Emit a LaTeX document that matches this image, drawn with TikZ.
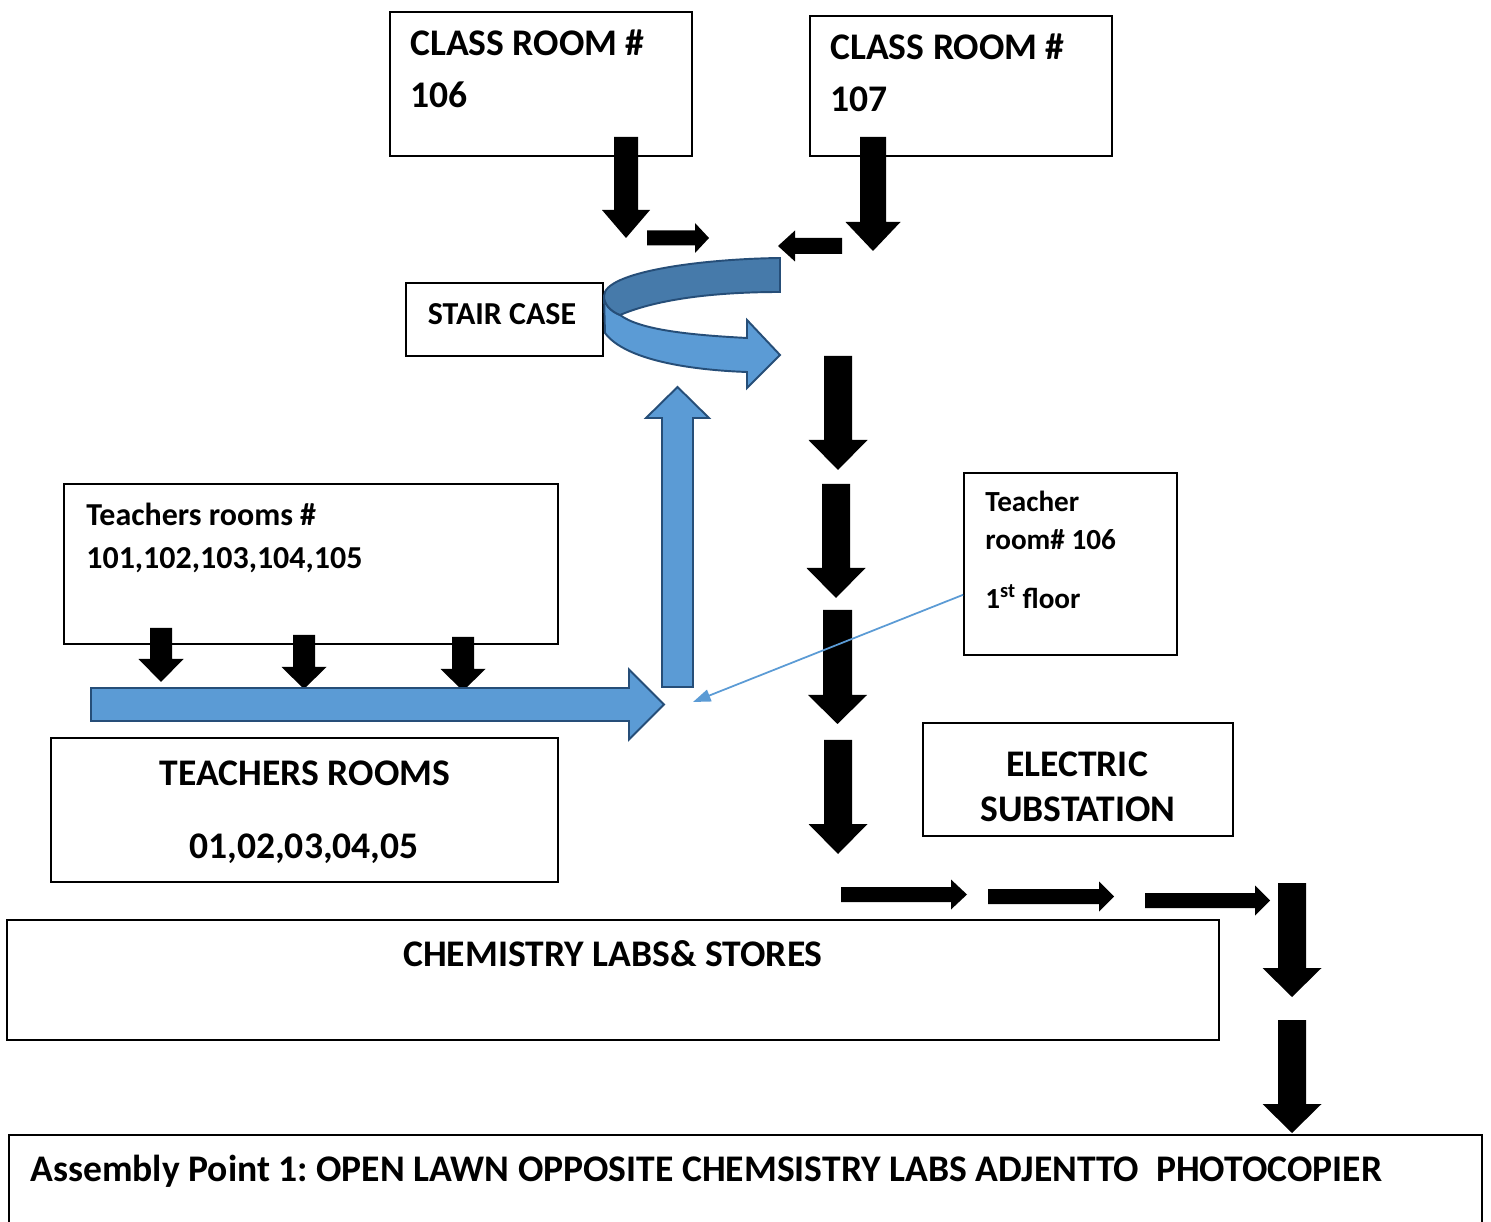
\documentclass[tikz,border=0pt]{standalone}
\usepackage{fontspec}
\setmainfont{Carlito}
\frenchspacing
\usetikzlibrary{arrows.meta,fit}
\definecolor{lblue}{HTML}{5B9BD5}
\definecolor{dblue}{HTML}{467AAA}
\definecolor{eblue}{HTML}{264E78}
\newcommand{\fbig}{\fontsize{21.4}{25}\selectfont\bfseries}
\newcommand{\fmid}{\fontsize{18.2}{22}\selectfont\bfseries}
\newcommand{\fsml}{\fontsize{16.6}{20}\selectfont\bfseries}
% block arrows: style, x, y start, y head base, y tip, shaft half, head half
\newcommand{\blkv}[7]{\path[#1] ({#2-#6},#3) -- ({#2+#6},#3) -- ({#2+#6},#4) -- ({#2+#7},#4)
  -- (#2,#5) -- ({#2-#7},#4) -- ({#2-#6},#4) -- cycle;}
\newcommand{\blkh}[7]{\path[#1] (#3,{#2-#6}) -- (#4,{#2-#6}) -- (#4,{#2-#7}) -- (#5,#2)
  -- (#4,{#2+#7}) -- (#4,{#2+#6}) -- (#3,{#2+#6}) -- cycle;}
\begin{document}
\begin{tikzpicture}[x=0.02cm,y=-0.02cm,
    box/.style={draw,line width=1pt,inner sep=0pt},
    txt/.style={inner sep=0pt,anchor=base west},
    ctr/.style={inner sep=0pt,anchor=base},
    blk/.style={fill=black},
    blu/.style={fill=lblue,draw=eblue,line width=1.1pt,line join=miter}]
    \useasboundingbox[fill=white] (0,0) rectangle (1491,1222);
    % boxes
    \node[box,fit={(390,12) (692,156)}] (CR106) {};
    \node[box,fit={(810,16) (1112,156)}] (CR107) {};
    \node[box,fit={(406,283) (603,356)}] (SC) {};
    \node[box,fit={(64,484) (558,644)}] (TR) {};
    \node[box,fit={(964,473) (1177,655)}] (TR106) {};
    \node[box,fit={(51,738) (558,882)}] (TRB) {};
    \node[box,fit={(923,723) (1233,836)}] (ES) {};
    \node[box,fit={(7,920) (1219,1040)}] (CL) {};
    \node[box,fit={(9,1135) (1482,1260)}] (AP) {};
    % texts
    \node[txt,font=\fbig] (CR106a) at (410,56) {CLASS ROOM \#};
    \node[txt,font=\fbig] (CR106b) at (410,108) {106};
    \node[txt,font=\fbig] (CR107a) at (830,60) {CLASS ROOM \#};
    \node[txt,font=\fbig] (CR107b) at (830,112) {107};
    \node[ctr,font=\fmid] (SCa) at (502,325) {STAIR CASE};
    \node[txt,font=\fmid] (TRa) at (86,526) {Teachers rooms \#};
    \node[txt,font=\fmid] (TRb) at (86,569) {101,102,103,104,105};
    \node[txt,font=\fsml] (TR106a) at (985,512) {Teacher};
    \node[txt,font=\fsml] (TR106b) at (985,550) {room\# 106};
    \node[txt,font=\fsml] (TR106c) at (985,609) {1\textsuperscript{st} floor};
    \node[ctr,font=\fbig] (TRBa) at (305,786) {TEACHERS ROOMS};
    \node[ctr,font=\fbig] (TRBb) at (304,858) {01,02,03,04,05};
    \node[ctr,font=\fbig] (ESa) at (1077,776) {ELECTRIC};
    \node[ctr,font=\fbig] (ESb) at (1078,821) {SUBSTATION};
    \node[ctr,font=\fbig] (CLa) at (613,966) {CHEMISTRY LABS\& STORES};
    \node[txt,font=\fbig] (APa) at (30,1181) {Assembly Point 1: OPEN LAWN OPPOSITE CHEMSISTRY LABS ADJENTTO\ \ PHOTOCOPIER};
    % black arrows
    \blkv{blk}{626}{137}{210}{238}{12}{24}
    \blkh{blk}{238}{647}{695}{709}{7.5}{15}
    \blkh{blk}{246}{842}{795}{778}{8}{15.5}
    \blkv{blk}{873}{137}{222}{251}{13}{27.5}
    \blkv{blk}{838}{356}{440}{470}{14}{29.5}
    \blkv{blk}{836}{484}{568}{598}{14}{29.5}
    \blkv{blk}{837.5}{610}{695}{724}{14.5}{29.5}
    \blkv{blk}{838}{740}{824}{854}{14}{29.5}
    \blkh{blk}{894.5}{841}{951}{967}{7.5}{15}
    \blkh{blk}{896.5}{988}{1099}{1114}{7.5}{15}
    \blkh{blk}{900.5}{1145}{1255}{1270}{7.5}{15}
    \blkv{blk}{1292}{883}{968}{997}{14}{29.5}
    \blkv{blk}{1292}{1020}{1104}{1133}{14}{29.5}
    \blkv{blk}{161}{628}{659}{682}{11}{22.5}
    \blkv{blk}{304}{635}{667}{689}{11}{22.5}
    \blkv{blk}{463}{637}{669}{691}{11}{22.5}
    % blue arrows
    \blkh{blu}{704.5}{91}{629}{664}{16.5}{35}
    \blkv{blu}{677.5}{687}{418}{387}{15.5}{31.5}
    \draw[blu] (604,296) -- (605,333) .. controls (625,360) and (690,370) .. (747,372)
      -- (747,388) -- (780,355) -- (747,320) -- (747,338)
      .. controls (690,335) and (640,330) .. (620,315)
      .. controls (610,311) and (604,304) .. (604,296) -- cycle;
    \draw[blu,fill=dblue] (780,258) .. controls (700,259) and (604,272) .. (604,296)
      .. controls (604,304) and (610,311) .. (620,315)
      .. controls (660,298) and (720,292) .. (780,292) -- cycle;
    % pointer
    \coordinate (P) at (693,702);
    \draw[lblue,line width=1pt,-{Triangle[length=10pt,width=7pt]}] (TR106.196) -- (P);
\end{tikzpicture}
\end{document}
